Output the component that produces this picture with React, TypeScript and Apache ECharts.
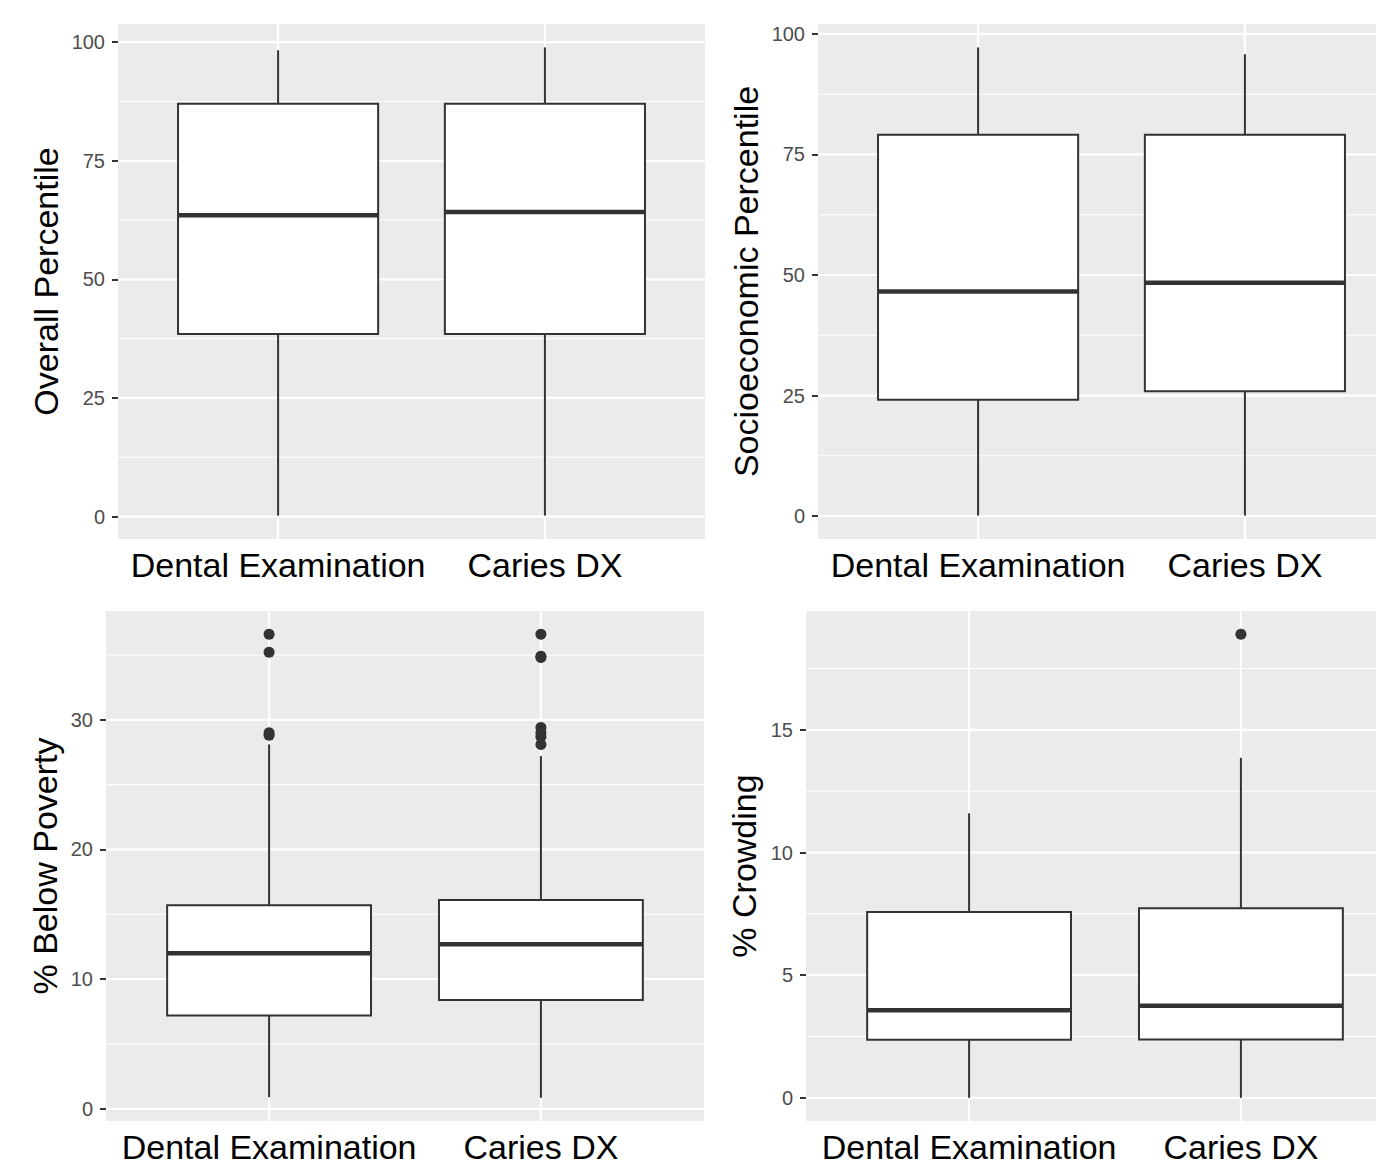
import React, { useEffect, useRef } from "react";
import * as echarts from "echarts";

// ---------- data ----------
const categories = ["Dental Examination", "Caries DX"];

// [min whisker, Q1, median, Q3, max whisker]
const overallStats = [
  [0.2, 38.5, 63.5, 87.0, 98.3],
  [0.2, 38.5, 64.2, 87.0, 98.9],
];
const socioStats = [
  [0.1, 24.1, 46.6, 79.1, 97.2],
  [0.1, 25.9, 48.4, 79.1, 95.8],
];
const povertyStats = [
  [0.9, 7.2, 12.0, 15.7, 28.1],
  [0.85, 8.4, 12.7, 16.1, 27.2],
];
const crowdStats = [
  [0.0, 2.37, 3.57, 7.57, 11.6],
  [0.0, 2.38, 3.75, 7.73, 13.86],
];

const overallOutliers: number[][] = [[], []];
const socioOutliers: number[][] = [[], []];
const povertyOutliers: number[][] = [
  [36.6, 35.2, 29.0, 28.8],
  [36.6, 34.9, 34.8, 29.4, 29.0, 28.7, 28.1],
];
const crowdOutliers: number[][] = [[], [18.9]];

const overallTicks = [0, 25, 50, 75, 100];
const overallMinor = [12.5, 37.5, 62.5, 87.5];
const socioTicks = [0, 25, 50, 75, 100];
const socioMinor = [12.5, 37.5, 62.5, 87.5];
const povertyTicks = [0, 10, 20, 30];
const povertyMinor = [5, 15, 25, 35];
const crowdTicks = [0, 5, 10, 15];
const crowdMinor = [2.5, 7.5, 12.5, 17.5];

const titles = ["Overall Percentile", "Socioeconomic Percentile", "% Below Poverty", "% Crowding"];

// ---------- layout ----------
const FONT = "'Liberation Sans', Arial, Helvetica, sans-serif";
const DARK = "#333333";

const panels = [
  { title: titles[0], stats: overallStats, outliers: overallOutliers, ticks: overallTicks, minor: overallMinor,
    grid: { left: 118, top: 24, width: 587, height: 515 }, nameGap: 55 },
  { title: titles[1], stats: socioStats, outliers: socioOutliers, ticks: socioTicks, minor: socioMinor,
    grid: { left: 818, top: 24, width: 587, height: 515 }, nameGap: 55 },
  { title: titles[2], stats: povertyStats, outliers: povertyOutliers, ticks: povertyTicks, minor: povertyMinor,
    grid: { left: 106, top: 611, width: 598, height: 515 }, nameGap: 44 },
  { title: titles[3], stats: crowdStats, outliers: crowdOutliers, ticks: crowdTicks, minor: crowdMinor,
    grid: { left: 806, top: 611, width: 598, height: 515 }, nameGap: 45 },
];

function yRange(stats: number[][], outliers: number[][]) {
  const all = [...stats.flat(), ...outliers.flat()];
  const lo = Math.min(...all);
  const hi = Math.max(...all);
  const pad = (hi - lo) * 0.05;
  return [lo - pad, hi + pad];
}

function buildOption() {
  const grid: any[] = [];
  const xAxis: any[] = [];
  const yAxis: any[] = [];
  const series: any[] = [];

  panels.forEach((p, i) => {
    const [ymin, ymax] = yRange(p.stats, p.outliers);
    const catPositions = categories.map((_, k) => k + 1);
    grid.push({
      ...p.grid,
      show: true,
      backgroundColor: "#EBEBEB",
      borderWidth: 0,
      containLabel: false,
    });
    xAxis.push({
      type: "value",
      gridIndex: i,
      min: 0.4,
      max: 2.6,
      axisLine: { show: false },
      axisTick: { show: true, length: 6, lineStyle: { color: DARK, width: 2 }, customValues: catPositions },
      axisLabel: {
        customValues: catPositions,
        formatter: (v: number) => categories[Math.round(v) - 1] ?? "",
        fontSize: 34,
        color: "#000000",
        fontFamily: FONT,
        margin: 9,
      },
      splitLine: { show: false },
    });
    yAxis.push({
      type: "value",
      gridIndex: i,
      min: ymin,
      max: ymax,
      name: p.title,
      nameLocation: "middle",
      nameGap: p.nameGap,
      nameRotate: 90,
      nameTextStyle: { fontSize: 34, color: "#000000", fontFamily: FONT },
      axisLine: { show: false },
      axisTick: { show: true, length: 6, lineStyle: { color: DARK, width: 2 }, customValues: p.ticks },
      axisLabel: {
        customValues: p.ticks,
        fontSize: 20,
        color: "#4D4D4D",
        fontFamily: FONT,
        margin: 13,
      },
      splitLine: { show: false },
    });

    // grid lines: [orientation (0 = horizontal, 1 = vertical), value, width]
    const gridData = [
      ...p.minor.map((v) => [0, v, 1.1]),
      ...p.ticks.map((v) => [0, v, 2.2]),
      ...catPositions.map((v) => [1, v, 2.2]),
    ];
    series.push({
      type: "custom",
      xAxisIndex: i,
      yAxisIndex: i,
      z: 1,
      silent: true,
      data: gridData,
      renderItem: (params: any, api: any) => {
        const cs = params.coordSys;
        const orient = api.value(0);
        const v = api.value(1);
        const w = api.value(2);
        if (orient === 0) {
          const y = api.coord([1, v])[1];
          return {
            type: "line",
            shape: { x1: cs.x, y1: y, x2: cs.x + cs.width, y2: y },
            style: { stroke: "#FFFFFF", lineWidth: w },
          };
        }
        const x = api.coord([v, 0])[0];
        return {
          type: "line",
          shape: { x1: x, y1: cs.y, x2: x, y2: cs.y + cs.height },
          style: { stroke: "#FFFFFF", lineWidth: w },
        };
      },
    });

    // boxes
    series.push({
      type: "custom",
      xAxisIndex: i,
      yAxisIndex: i,
      z: 3,
      silent: true,
      data: p.stats.map((s, k) => [k + 1, ...s]),
      renderItem: (_params: any, api: any) => {
        const x = api.value(0);
        const lo = api.value(1);
        const q1 = api.value(2);
        const med = api.value(3);
        const q3 = api.value(4);
        const hi = api.value(5);
        const halfW = api.size([0.75, 0])[0] / 2;
        const pLo = api.coord([x, lo]);
        const pQ1 = api.coord([x, q1]);
        const pMed = api.coord([x, med]);
        const pQ3 = api.coord([x, q3]);
        const pHi = api.coord([x, hi]);
        const cx = pMed[0];
        return {
          type: "group",
          children: [
            { type: "line", shape: { x1: cx, y1: pHi[1], x2: cx, y2: pQ3[1] }, style: { stroke: DARK, lineWidth: 2 } },
            { type: "line", shape: { x1: cx, y1: pQ1[1], x2: cx, y2: pLo[1] }, style: { stroke: DARK, lineWidth: 2 } },
            {
              type: "rect",
              shape: { x: cx - halfW, y: pQ3[1], width: 2 * halfW, height: pQ1[1] - pQ3[1] },
              style: { fill: "#FFFFFF", stroke: DARK, lineWidth: 2 },
            },
            {
              type: "line",
              shape: { x1: cx - halfW, y1: pMed[1], x2: cx + halfW, y2: pMed[1] },
              style: { stroke: DARK, lineWidth: 4.5 },
            },
          ],
        };
      },
    });

    // outliers
    series.push({
      type: "scatter",
      xAxisIndex: i,
      yAxisIndex: i,
      z: 4,
      silent: true,
      symbol: "circle",
      symbolSize: 11,
      itemStyle: { color: DARK, opacity: 1 },
      data: p.outliers.flatMap((arr, k) => arr.map((v) => [k + 1, v])),
    });
  });

  return { animation: false, backgroundColor: "#FFFFFF", grid, xAxis, yAxis, series };
}

export default function App() {
  const ref = useRef<HTMLDivElement>(null);
  useEffect(() => {
    if (!ref.current) return;
    const chart = echarts.init(ref.current, undefined, { renderer: "svg" });
    chart.setOption(buildOption() as any);
    return () => chart.dispose();
  }, []);
  return (
    <div
      style={{
        position: "absolute",
        left: 0,
        top: 0,
        width: 1376,
        height: 1164,
        overflow: "hidden",
        background: "#FFFFFF",
      }}
    >
      <div ref={ref} style={{ width: 1420, height: 1164 }} />
    </div>
  );
}
